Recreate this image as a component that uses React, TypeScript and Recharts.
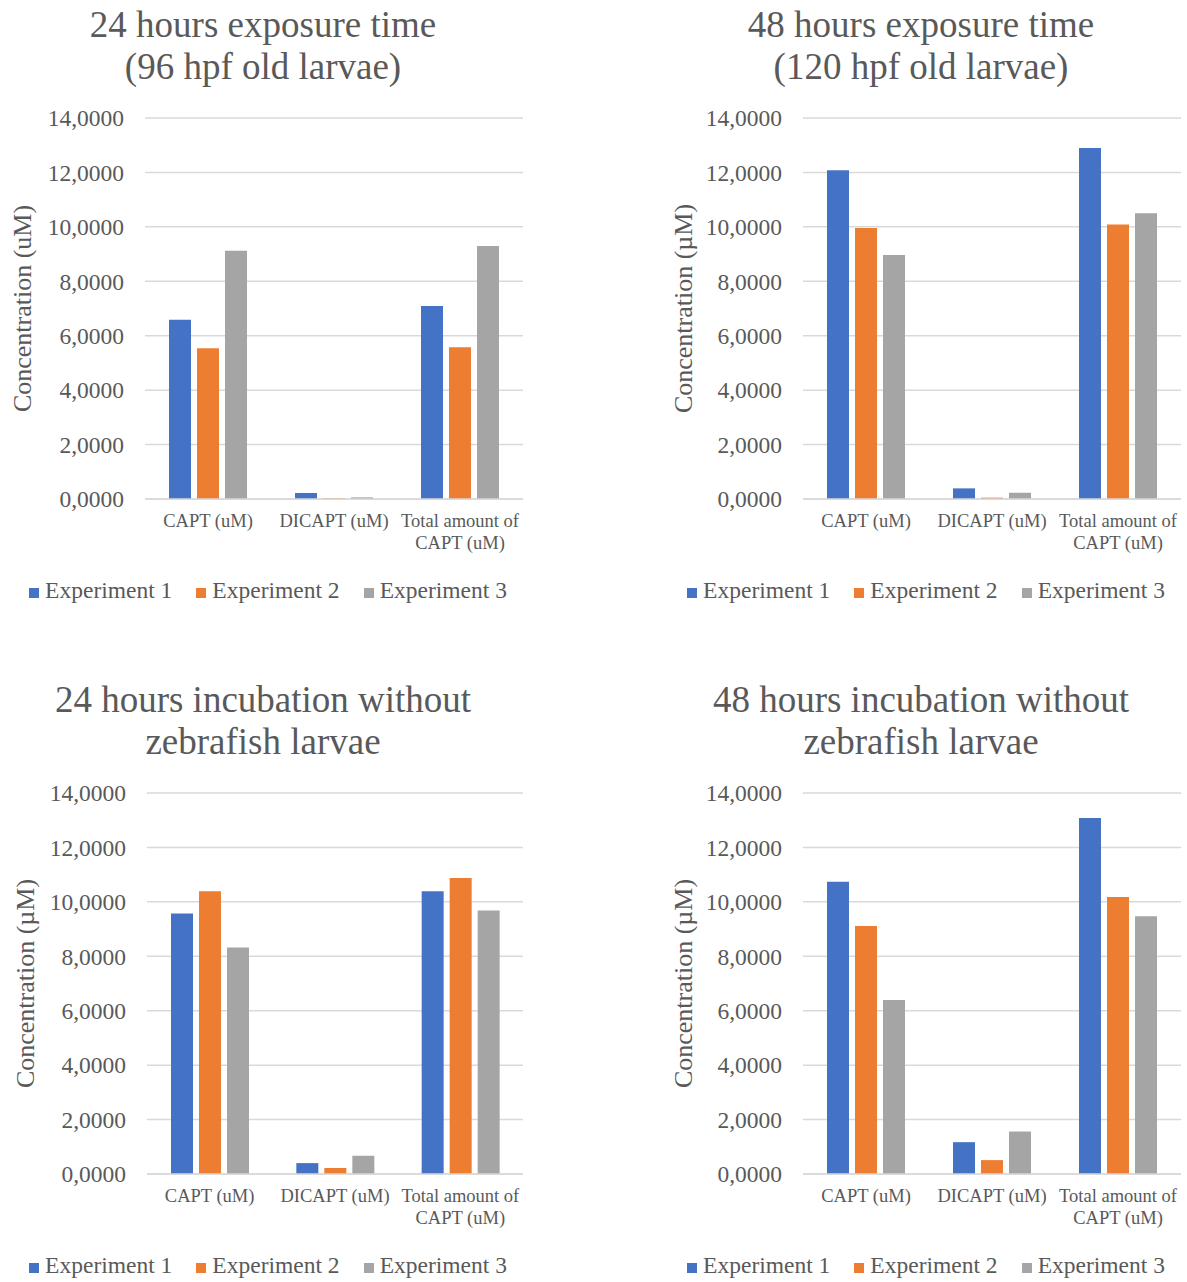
import React from "react";
import { BarChart, Bar, XAxis, YAxis, CartesianGrid, Legend, Text } from "recharts";

const FONT = "'Liberation Serif', 'Times New Roman', serif";
const GREY = "#595959";

const categories = ["CAPT (uM)", "DICAPT (uM)", "Total amount of CAPT (uM)"];
const yTicks = [0, 2, 4, 6, 8, 10, 12, 14];
const seriesNames = ["Experiment 1", "Experiment 2", "Experiment 3"];
const seriesColors = ["#4472C4", "#ED7D31", "#A5A5A5"];

// 24 h exposure (96 hpf)
const exposure24Exp1 = [6.59, 0.22, 7.09];
const exposure24Exp2 = [5.54, 0.03, 5.58];
const exposure24Exp3 = [9.12, 0.06, 9.3];

// 48 h exposure (120 hpf)
const exposure48Exp1 = [12.08, 0.39, 12.9];
const exposure48Exp2 = [9.96, 0.05, 10.09];
const exposure48Exp3 = [8.97, 0.23, 10.5];

// 24 h incubation without larvae
const incubation24Exp1 = [9.57, 0.4, 10.39];
const incubation24Exp2 = [10.39, 0.22, 10.88];
const incubation24Exp3 = [8.32, 0.67, 9.68];

// 48 h incubation without larvae
const incubation48Exp1 = [10.74, 1.17, 13.08];
const incubation48Exp2 = [9.11, 0.51, 10.18];
const incubation48Exp3 = [6.39, 1.56, 9.47];

const buildData = (e1: number[], e2: number[], e3: number[]) =>
  categories.map((name, i) => ({ name, e1: e1[i], e2: e2[i], e3: e3[i] }));

const panels = [
  {
    left: 0, top: 0, plotLeft: 145, labelX: 22,
    title: ["24 hours exposure time", "(96 hpf old larvae)"],
    yLabel: "Concentration (uM)",
    data: buildData(exposure24Exp1, exposure24Exp2, exposure24Exp3),
  },
  {
    left: 658, top: 0, plotLeft: 145, labelX: 25,
    title: ["48 hours exposure time", "(120 hpf old larvae)"],
    yLabel: "Concentration (µM)",
    data: buildData(exposure48Exp1, exposure48Exp2, exposure48Exp3),
  },
  {
    left: 0, top: 675, plotLeft: 147, labelX: 25,
    title: ["24 hours incubation without", "zebrafish larvae"],
    yLabel: "Concentration (µM)",
    data: buildData(incubation24Exp1, incubation24Exp2, incubation24Exp3),
  },
  {
    left: 658, top: 675, plotLeft: 145, labelX: 25,
    title: ["48 hours incubation without", "zebrafish larvae"],
    yLabel: "Concentration (µM)",
    data: buildData(incubation48Exp1, incubation48Exp2, incubation48Exp3),
  },
];

const W = 590;
const H = 640;
const PLOT_TOP = 118;
const PLOT_BOTTOM = 499;
const PLOT_RIGHT = 523;
const X_AXIS_H = 60;

const CategoryTick = (props: any) => {
  const { x, y, payload } = props;
  return (
    <Text
      x={x}
      y={y + 7}
      width={124}
      textAnchor="middle"
      verticalAnchor="start"
      fill={GREY}
      fontSize={18.5}
      fontFamily={FONT}
      lineHeight={22}
    >
      {payload.value}
    </Text>
  );
};

const fmt = (v: number) => v.toFixed(4).replace(".", ",");

const Panel = ({ p }: { p: (typeof panels)[number] }) => (
  <div style={{ position: "absolute", left: p.left, top: p.top, width: W, height: H }}>
    <div
      style={{
        position: "absolute",
        left: 0,
        top: 4,
        width: 526,
        textAlign: "center",
        fontFamily: FONT,
        fontSize: 37,
        lineHeight: "42px",
        color: GREY,
      }}
    >
      {p.title[0]}
      <br />
      {p.title[1]}
    </div>
    <BarChart
      width={W}
      height={H}
      data={p.data}
      margin={{ top: PLOT_TOP, right: W - PLOT_RIGHT, left: 0, bottom: H - PLOT_BOTTOM - X_AXIS_H }}
      barSize={22}
      barGap={6}
      style={{ fontFamily: FONT }}
    >
      <CartesianGrid vertical={false} stroke="#d9d9d9" strokeWidth={1.5} />
      <XAxis
        dataKey="name"
        height={X_AXIS_H}
        tick={<CategoryTick />}
        tickLine={false}
        axisLine={{ stroke: "#d9d9d9", strokeWidth: 1.5 }}
        interval={0}
      />
      <YAxis
        width={p.plotLeft}
        domain={[0, 14]}
        ticks={yTicks}
        tickFormatter={fmt}
        axisLine={false}
        tickLine={false}
        tickSize={6}
        tickMargin={15}
        tick={{ fill: GREY, fontSize: 23.5, fontFamily: FONT }}
        label={{
          value: p.yLabel,
          angle: -90,
          position: "center",
          dx: p.labelX - p.plotLeft / 2,
          fill: GREY,
          fontSize: 26,
          fontFamily: FONT,
        }}
      />
      <Legend
        verticalAlign="middle"
        align="center"
        iconSize={10}
        wrapperStyle={{ top: 577, left: 0, width: 560, fontFamily: FONT, fontSize: 23.5 }}
        formatter={(v: string) => (
          <span style={{ color: GREY, marginLeft: 2, marginRight: 14, fontFamily: FONT }}>{v}</span>
        )}
      />
      {seriesNames.map((name, i) => (
        <Bar
          key={name}
          dataKey={`e${i + 1}`}
          name={name}
          fill={seriesColors[i]}
          legendType="square"
          isAnimationActive={false}
        />
      ))}
    </BarChart>
  </div>
);

export default function App() {
  return (
    <div style={{ position: "absolute", left: 0, top: 0, width: 1187, height: 1282, background: "#fff" }}>
      {panels.map((p, i) => (
        <Panel key={i} p={p} />
      ))}
    </div>
  );
}
